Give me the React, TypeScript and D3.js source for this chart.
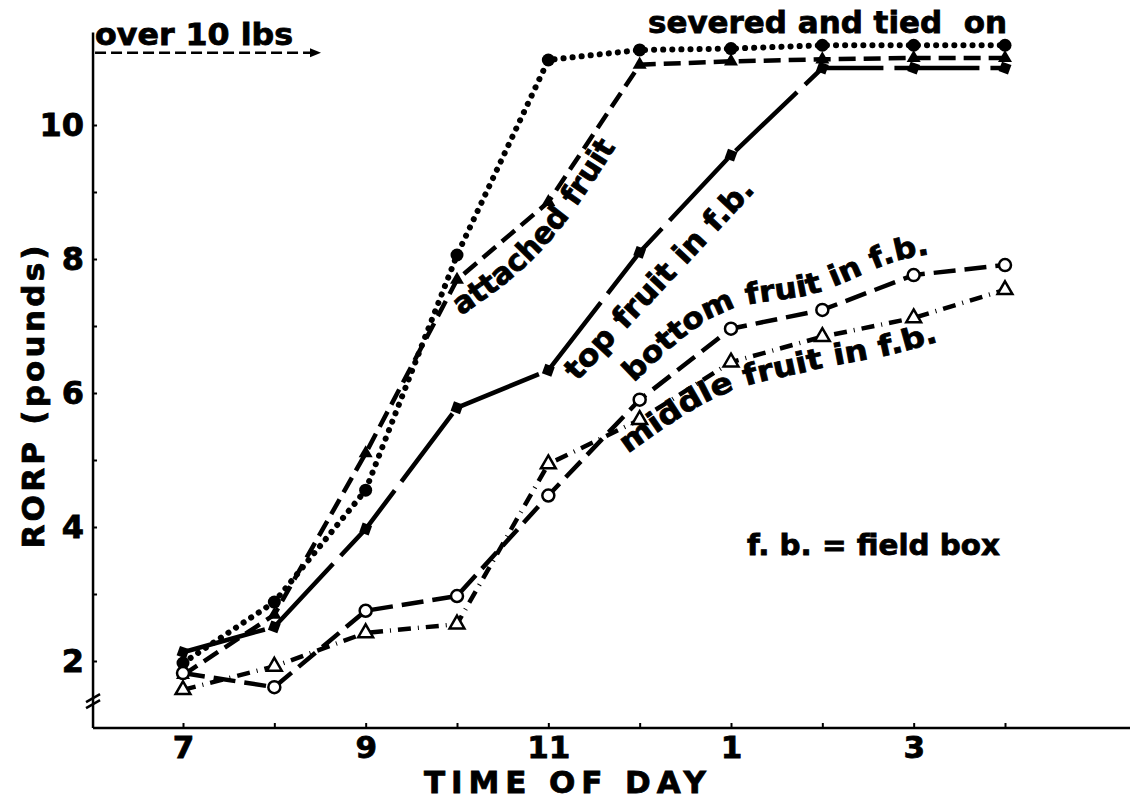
import { useEffect, useRef } from "react";
import * as d3 from "d3";

// hours of the day, 7 am .. 4 pm (13 = 1 pm etc.)
const hours = [7, 8, 9, 10, 11, 12, 13, 14, 15, 16];
const xTickLabels: Record<number, string> = { 7: "7", 9: "9", 11: "11", 13: "1", 15: "3" };
const yTicks = [2, 3, 4, 5, 6, 7, 8, 9, 10];
const yTickLabels = [2, 4, 6, 8, 10];

// RORP (pounds)
const severedTied = [1.97, 2.88, 4.55, 8.06, 10.97, 11.12, 11.14, 11.19, 11.19, 11.19];
const attachedFruit = [1.79, 2.69, 5.1, 7.69, 8.85, 10.9, 10.95, 10.98, 11.0, 11.0];
const topFruit = [2.13, 2.51, 3.97, 5.78, 6.34, 8.1, 9.55, 10.85, 10.85, 10.85];
const bottomFruit = [1.82, 1.61, 2.75, 2.97, 4.47, 5.9, 6.96, 7.24, 7.76, 7.91];
const middleFruit = [1.57, 1.92, 2.42, 2.55, 4.94, 5.6, 6.46, 6.84, 7.12, 7.54];

const FONT = "'DejaVu Sans', sans-serif";

export default function App() {
  const svgRef = useRef<SVGSVGElement>(null);

  useEffect(() => {
    if (!svgRef.current) return;
    const width = 1130;
    const height = 800;
    const svg = d3.select(svgRef.current);
    svg.selectAll("*").remove();
    svg.attr("width", width).attr("height", height);

    const x = d3.scaleLinear().domain([7, 16]).range([183, 1005]);
    const y = d3.scaleLinear().domain([2, 10]).range([661, 125]);
    const x0 = x(6.015);
    const y0 = y(1.0);

    const g = svg.append("g");

    // axes
    g.append("line")
      .attr("x1", x0).attr("x2", width)
      .attr("y1", y0).attr("y2", y0)
      .attr("stroke", "#000").attr("stroke-width", 2.5);
    g.append("line")
      .attr("x1", x0).attr("x2", x0)
      .attr("y1", y(11.38)).attr("y2", y0)
      .attr("stroke", "#000").attr("stroke-width", 2.5);

    const xAxis = d3.axisBottom<number>(x)
      .tickValues(hours)
      .tickSize(-5)
      .tickPadding(11)
      .tickFormat(d => xTickLabels[d as number] ?? "");
    const gx = g.append("g").attr("transform", `translate(0,${y0})`).call(xAxis);
    gx.select(".domain").remove();
    gx.selectAll("line").attr("stroke", "#000").attr("stroke-width", 2);
    gx.selectAll("text")
      .attr("fill", "#000")
      .attr("stroke", "#000")
      .attr("stroke-width", 0.8)
      .attr("font-family", FONT)
      .attr("font-weight", "bold")
      .attr("font-size", 31)
      .attr("dy", "0.6em");

    const yAxis = d3.axisLeft<number>(y)
      .tickValues(yTicks)
      .tickSize(-4)
      .tickPadding(9)
      .tickFormat(d => (yTickLabels.includes(d as number) ? String(d) : ""));
    const gy = g.append("g").attr("transform", `translate(${x0},0)`).call(yAxis);
    gy.select(".domain").remove();
    gy.selectAll("line").attr("stroke", "#000").attr("stroke-width", 2);
    gy.selectAll("text")
      .attr("fill", "#000")
      .attr("stroke", "#000")
      .attr("stroke-width", 0.8)
      .attr("font-family", FONT)
      .attr("font-weight", "bold")
      .attr("font-size", 32);

    // axis break
    const yb = y(1.4);
    [-3, 3].forEach(o => {
      g.append("line")
        .attr("x1", x0 - 7).attr("x2", x0 + 7)
        .attr("y1", yb + o + 4).attr("y2", yb + o - 4)
        .attr("stroke", "#000").attr("stroke-width", 2.5);
    });

    // series
    const series = [
      { name: "severed", values: severedTied, dash: "0.1 9", width: 6, cap: "round" },
      { name: "attached", values: attachedFruit, dash: "17 8", width: 4.5, cap: "butt" },
      { name: "top", values: topFruit, dash: "85 11", width: 4.5, cap: "butt" },
      { name: "bottom", values: bottomFruit, dash: "22 9", width: 4.5, cap: "butt" },
      { name: "middle", values: middleFruit, dash: "13 7 1 7", width: 4.5, cap: "butt" },
    ];

    const line = d3.line<number>()
      .x((_, i) => x(hours[i]))
      .y(d => y(d));

    g.selectAll("path.series")
      .data(series)
      .enter()
      .append("path")
      .attr("class", "series")
      .attr("fill", "none")
      .attr("stroke", "#000")
      .attr("stroke-width", d => d.width)
      .attr("stroke-dasharray", d => d.dash)
      .attr("stroke-linecap", d => d.cap)
      .attr("d", d => line(d.values));

    const tri = d3.symbol().type(d3.symbolTriangle);

    // markers
    g.selectAll("circle.sev")
      .data(severedTied)
      .enter()
      .append("circle")
      .attr("cx", (_, i) => x(hours[i]))
      .attr("cy", d => y(d))
      .attr("r", 6.5)
      .attr("fill", "#000");

    g.selectAll("path.att")
      .data(attachedFruit)
      .enter()
      .append("path")
      .attr("transform", (d, i) => `translate(${x(hours[i])},${y(d)})`)
      .attr("d", tri.size(85)())
      .attr("fill", "#000");

    g.selectAll("rect.top")
      .data(topFruit)
      .enter()
      .append("rect")
      .attr("x", -5).attr("y", -5)
      .attr("width", 10).attr("height", 10)
      .attr("transform", (d, i) => `translate(${x(hours[i])},${y(d)}) rotate(20)`)
      .attr("fill", "#000");

    g.selectAll("circle.bot")
      .data(bottomFruit)
      .enter()
      .append("circle")
      .attr("cx", (_, i) => x(hours[i]))
      .attr("cy", d => y(d))
      .attr("r", 6)
      .attr("fill", "#fff")
      .attr("stroke", "#000")
      .attr("stroke-width", 2.5);

    g.selectAll("path.mid")
      .data(middleFruit)
      .enter()
      .append("path")
      .attr("transform", (d, i) => `translate(${x(hours[i])},${y(d)})`)
      .attr("d", tri.size(95)())
      .attr("fill", "#fff")
      .attr("stroke", "#000")
      .attr("stroke-width", 2.5);

    // text helpers
    const label = (txt: string, px: number, py: number, size: number, len: number, rot = 0) =>
      g.append("text")
        .attr("transform", `translate(${px},${py}) rotate(${rot})`)
        .attr("font-family", FONT)
        .attr("font-weight", "bold")
        .attr("font-size", size)
        .attr("fill", "#000")
        .attr("stroke", "#000")
        .attr("stroke-width", 0.8)
        .attr("textLength", len)
        .attr("lengthAdjust", "spacingAndGlyphs")
        .style("white-space", "pre")
        .text(txt);

    // over 10 lbs + arrow
    label("over 10 lbs", x0 + 2, 45, 30, 198);
    const ya = y(11.08);
    g.append("line")
      .attr("x1", x0 + 2).attr("x2", 312)
      .attr("y1", ya).attr("y2", ya)
      .attr("stroke", "#000").attr("stroke-width", 2.5)
      .attr("stroke-dasharray", "11 5");
    g.append("path")
      .attr("d", `M${310},${ya - 4.5} L${321},${ya} L${310},${ya + 4.5} Z`)
      .attr("fill", "#000");

    label("severed and tied  on", 648, 33, 30, 359);
    label("top fruit in f.b.", 577, 382, 30, 262, -47);
    label("f. b. = field box", 747, 555, 28, 253);

    // curved labels that follow their series
    const pathLine = d3.line<[number, number]>().curve(d3.curveMonotoneX);
    const offPts = (vals: number[], from: number, to: number, dx: number, dy: number) =>
      vals.slice(from, to).map((v, i) => [x(hours[i + from]) + dx, y(v) + dy] as [number, number]);

    const defs = svg.append("defs");
    defs.append("path").attr("id", "attPath").attr("d", pathLine(offPts(attachedFruit, 3, 6, 4, 36)));
    defs.append("path").attr("id", "botPath").attr("d", pathLine(offPts(bottomFruit, 5, 10, -6, -17)));
    defs.append("path").attr("id", "midPath").attr("d", pathLine(offPts(middleFruit, 5, 10, -12, 34)));

    const curved = (id: string, txt: string, len: number, size = 29) =>
      g.append("text")
        .attr("font-family", FONT)
        .attr("font-weight", "bold")
        .attr("font-size", size)
        .attr("fill", "#000")
        .attr("stroke", "#000")
        .attr("stroke-width", 0.8)
        .append("textPath")
        .attr("href", `#${id}`)
        .attr("textLength", len)
        .attr("lengthAdjust", "spacingAndGlyphs")
        .text(txt);
    curved("attPath", "attached fruit", 232, 30);
    curved("botPath", "bottom fruit in f.b.", 330);
    curved("midPath", "middle fruit in f.b.", 335);

    // axis titles
    g.append("text")
      .attr("transform", `translate(44,${397}) rotate(-90)`)
      .attr("text-anchor", "middle")
      .attr("font-family", FONT)
      .attr("font-weight", "bold")
      .attr("font-size", 31)
      .attr("fill", "#000")
      .attr("stroke", "#000")
      .attr("stroke-width", 0.8)
      .attr("textLength", 303)
      .attr("lengthAdjust", "spacing")
      .text("RORP (pounds)");

    g.append("text")
      .attr("x", 565)
      .attr("y", 793)
      .attr("text-anchor", "middle")
      .attr("font-family", FONT)
      .attr("font-weight", "bold")
      .attr("font-size", 31)
      .attr("fill", "#000")
      .attr("stroke", "#000")
      .attr("stroke-width", 0.8)
      .attr("textLength", 282)
      .attr("lengthAdjust", "spacing")
      .text("TIME OF DAY");
  }, []);

  return (
    <div style={{ position: "absolute", left: 0, top: 0, width: 1130, height: 800, background: "#fff" }}>
      <svg ref={svgRef} style={{ display: "block" }}></svg>
    </div>
  );
}
